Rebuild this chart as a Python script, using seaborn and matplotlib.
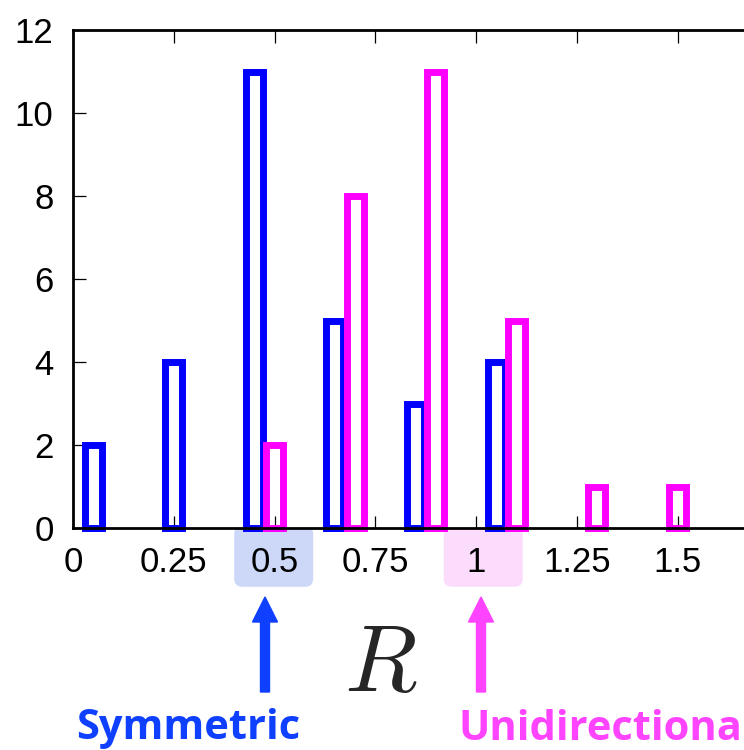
import numpy as np
import pandas as pd
import matplotlib
matplotlib.use("Agg")
import matplotlib.pyplot as plt
import seaborn as sns
from matplotlib.patches import FancyBboxPatch, FancyArrow
from matplotlib.transforms import blended_transform_factory, IdentityTransform

# Histogram of R for the two configurations
r_symmetric = [0.05, 0.25, 0.45, 0.65, 0.85, 1.05]
n_symmetric = [2, 4, 11, 5, 3, 4]
r_unidirectional = [0.5, 0.7, 0.9, 1.1, 1.3, 1.5]
n_unidirectional = [2, 8, 11, 5, 1, 1]

x_ticks = [0, 0.25, 0.5, 0.75, 1, 1.25, 1.5]
x_tick_labels = ["0", "0.25", "0.5", "0.75", "1", "1.25", "1.5"]
y_ticks = [0, 2, 4, 6, 8, 10, 12]

BLUE = "#0000ff"
MAGENTA = "#ff00ff"

sns.set_style("ticks")
plt.rcParams["font.family"] = ["Liberation Sans", "DejaVu Sans"]
plt.rcParams["mathtext.fontset"] = "cm"

fig = plt.figure(figsize=(7.44, 7.5), dpi=100)
ax = fig.add_axes([73 / 744, 1 - 528 / 750, 1.7 * 403 / 744, 498 / 750])

bin_w = 0.2


def draw(r, n, color):
    r = np.asarray(r, dtype=float)
    edges = np.r_[r - bin_w / 2, r[-1] + bin_w / 2].tolist()
    df = pd.DataFrame({"R": r, "count": n})
    before = len(ax.patches)
    sns.histplot(data=df, x="R", weights="count", bins=edges, shrink=0.21,
                 fill=False, color=color, linewidth=5.0, ax=ax)
    for p in ax.patches[before:]:
        p.set_clip_on(False)
        p.set_zorder(2)
        p.set_joinstyle("miter")
        p.set_edgecolor(color)


draw(r_symmetric, n_symmetric, BLUE)
draw(r_unidirectional, n_unidirectional, MAGENTA)

ax.set_xlim(0, 1.7)
ax.set_ylim(0, 12)
ax.set_xticks(x_ticks)
ax.set_xticklabels(x_tick_labels)
ax.set_yticks(y_ticks)
ax.set_xlabel("")
ax.set_ylabel("")
for side in ["left", "bottom", "top"]:
    ax.spines[side].set_linewidth(2)
    ax.spines[side].set_color("black")
    ax.spines[side].set_zorder(3)
ax.spines["right"].set_visible(False)
ax.tick_params(axis="both", direction="in", length=9, width=0.9,
               labelsize=25, colors="black")
ax.tick_params(axis="x", top=True, pad=13)
ax.tick_params(axis="y", pad=14)

# Highlighted tick labels
bt = blended_transform_factory(ax.transData, ax.transAxes)
for x0, fc in [(0.40, "#cdd7f8"), (0.92, "#fcdcfc")]:
    box = FancyBboxPatch((x0, -0.118), 0.196, 0.122, transform=bt,
                         boxstyle="round,pad=0,rounding_size=0.02",
                         mutation_aspect=403 / 498,
                         facecolor=fc, edgecolor="none",
                         clip_on=False, zorder=-1)
    fig.patches.append(box)

# Arrows and captions
for xpix, color in [(265, "#1040ff"), (481, "#ff44ff")]:
    arr = FancyArrow(xpix, 750 - 692, 0, 95, width=9, head_width=25,
                     head_length=25, length_includes_head=True,
                     color=color, transform=IdentityTransform())
    fig.patches.append(arr)

fig.text(381 / 744, 1 - 691 / 750, r"$R$", fontsize=68, ha="center",
         va="baseline")
fig.text(76 / 744, 1 - 739 / 750, "Symmetric", fontsize=30,
         fontweight="bold", color="#1040ff", family=["Open Sans", "DejaVu Sans"],
         ha="left", va="baseline")
fig.text(458 / 744, 1 - 740 / 750, "Unidirectional", fontsize=30,
         fontweight="bold", color="#ff44ff", family=["Open Sans", "DejaVu Sans"],
         ha="left", va="baseline")

fig.savefig("out.png", dpi=100)
